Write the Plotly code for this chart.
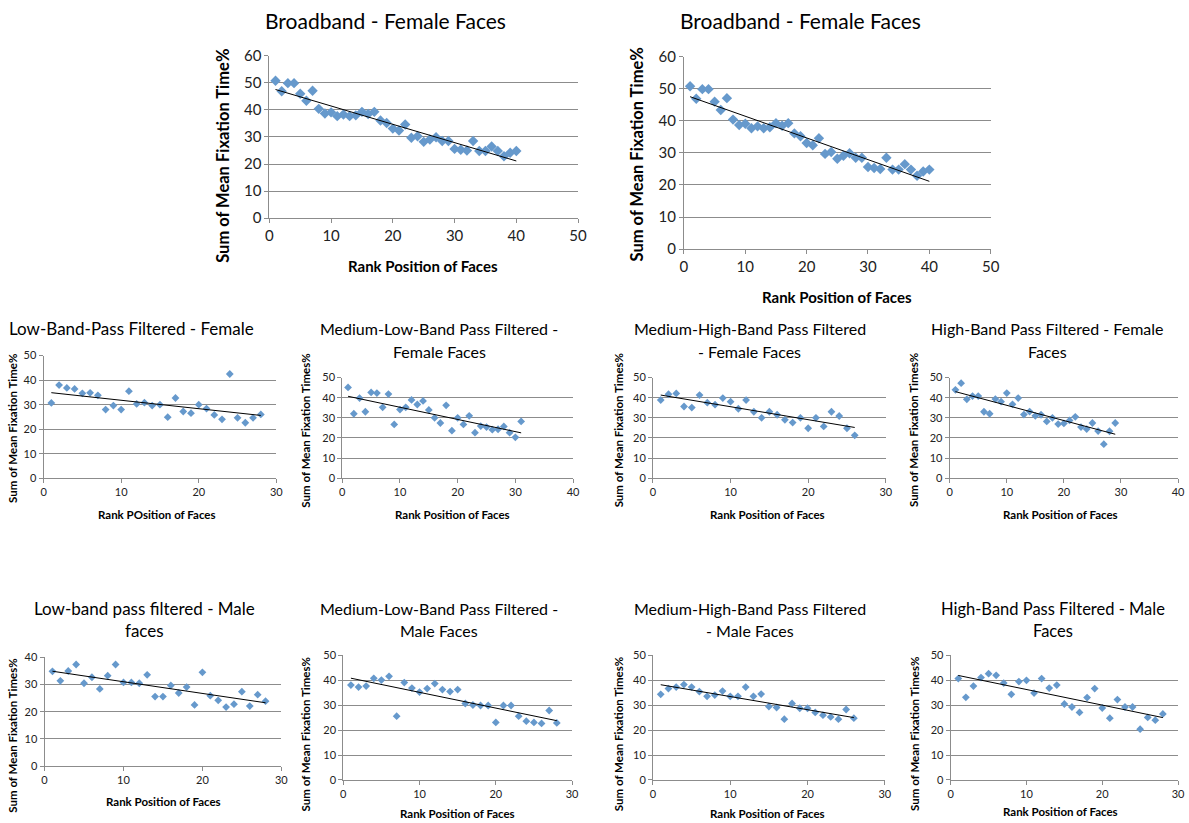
import numpy as np
import plotly.graph_objects as go

# ---------------- data ----------------
broadband_female = [50.8, 46.9, 49.9, 49.9, 46.0, 43.4, 47.1, 40.4, 38.7, 39.1,
                    37.7, 38.3, 37.7, 38.0, 39.3, 38.5, 39.3, 36.1, 35.2, 33.1,
                    32.4, 34.6, 29.7, 30.3, 28.2, 29.1, 29.9, 28.5, 28.5, 25.6,
                    25.3, 25.0, 28.5, 24.8, 24.8, 26.5, 24.8, 22.9, 24.2, 24.8]

low_female = [30.7, 38.0, 36.8, 36.4, 34.6, 34.8, 33.8, 28.0, 29.6, 28.0,
              35.5, 30.3, 30.8, 29.6, 30.0, 24.9, 32.7, 27.2, 26.5, 30.0,
              28.4, 25.8, 24.0, 42.5, 24.6, 22.6, 24.6, 26.0]

medlow_female = [45.1, 32.0, 39.8, 33.0, 42.6, 42.3, 35.2, 41.8, 26.7, 34.1,
                 35.2, 38.9, 36.6, 38.4, 33.9, 30.0, 27.4, 36.2, 23.6, 30.0,
                 26.7, 31.0, 22.6, 25.9, 25.4, 24.1, 24.3, 25.7, 22.6, 20.3, 28.2]

medhigh_female = [38.8, 41.7, 42.1, 35.6, 35.1, 41.3, 37.5, 36.5, 39.8, 38.0,
                  34.5, 38.8, 33.0, 30.0, 33.0, 31.5, 29.0, 27.6, 30.0, 24.8,
                  30.0, 25.7, 33.0, 30.9, 24.8, 21.3]

high_female = [43.9, 47.2, 39.2, 40.8, 40.8, 33.0, 32.0, 39.3, 38.0, 42.3,
               36.7, 39.8, 31.6, 33.1, 31.0, 31.5, 28.2, 30.0, 26.9, 27.2,
               28.7, 30.5, 25.4, 24.4, 27.4, 23.4, 16.9, 23.3, 27.4]

low_male = [34.9, 31.4, 35.0, 37.4, 30.5, 32.7, 28.4, 33.3, 37.4, 30.8,
            30.8, 30.5, 33.6, 25.6, 25.6, 29.7, 26.9, 29.1, 22.5, 34.5,
            25.9, 24.2, 21.7, 22.8, 27.4, 22.1, 26.3, 23.9]

medlow_male = [38.1, 37.3, 37.7, 40.8, 40.1, 41.6, 25.6, 39.1, 36.9, 35.3,
               36.7, 38.7, 36.3, 35.5, 36.3, 30.7, 30.1, 29.9, 29.9, 23.1,
               29.9, 29.9, 25.6, 23.6, 23.1, 22.7, 27.9, 22.9]

medhigh_male = [34.4, 36.7, 37.3, 38.3, 37.3, 35.5, 33.6, 34.1, 35.7, 33.6,
                33.6, 37.3, 33.6, 34.5, 29.5, 29.1, 24.4, 30.7, 28.8, 28.8,
                27.1, 26.0, 25.3, 24.4, 28.3, 24.8]

high_male = [40.7, 33.2, 37.7, 41.1, 42.7, 42.0, 38.9, 34.4, 39.5, 40.0,
             34.9, 40.7, 36.9, 38.1, 30.5, 29.3, 27.1, 33.1, 36.7, 28.9,
             24.8, 32.3, 29.3, 29.3, 20.4, 25.1, 24.0, 26.5]

# ---------------- layout helpers ----------------
FW, FH = 1189, 823
# calibration between reference pixel readings and page pixels
CAX, CBX = 2.4, 0.990
CAY, CBY = 8.0, 0.982


def px(x):
    v = (x - CAX) / CBX
    return min(max(v, 0), FW - 2) / FW


def py(y):
    v = (y - CAY) / CBY
    return 1 - min(max(v, 0), FH) / FH


FONT = "Lato"
MARKER = "#6699CC"
GRID = "#8C8C8C"

YT1 = "Sum of Mean Fixation Time%"
YT2 = "Sum of Mean Fixation Times%"
XT = "Rank Position of Faces"

panels = [
    dict(y=broadband_female, box=(268, 54, 577, 217), xr=50, yr=60,
         title=[("Broadband - Female Faces", 384, 19)], tsize=21,
         xt=XT, xtp=(422, 265), yt=YT1, ytp=(222, 154),
         xts=15, yts=16.5, ticks=15, ms=8),
    dict(y=broadband_female, box=(683, 55, 990, 248), xr=50, yr=60,
         title=[("Broadband - Female Faces", 800, 19)], tsize=21,
         xt=XT, xtp=(836, 296), yt=YT1, ytp=(636, 153),
         xts=15, yts=16.5, ticks=15, ms=8),
    dict(y=low_female, box=(42, 355, 275, 478), xr=30, yr=50,
         title=[("Low-Band-Pass Filtered - Female", 130, 328)], tsize=17,
         xt="Rank POsition of Faces", xtp=(156, 514), yt=YT1, ytp=(11, 428),
         xts=11.5, yts=11.5, ticks=11, ms=6),
    dict(y=medlow_female, box=(341, 377, 572, 478), xr=40, yr=50,
         title=[("Medium-Low-Band Pass Filtered -", 438, 328), ("Female Faces", 438, 351)], tsize=16,
         xt=XT, xtp=(451, 514), yt=YT2, ytp=(304, 430),
         xts=11.5, yts=11.5, ticks=11, ms=6),
    dict(y=medhigh_female, box=(652, 377, 885, 478), xr=30, yr=50,
         title=[("Medium-High-Band Pass Filtered", 749, 328), ("- Female Faces", 749, 351)], tsize=16,
         xt=XT, xtp=(767, 514), yt=YT2, ytp=(617, 430),
         xts=11.5, yts=11.5, ticks=11, ms=6),
    dict(y=high_female, box=(949, 377, 1181, 478), xr=40, yr=50,
         title=[("High-Band Pass Filtered - Female", 1047, 328), ("Faces", 1047, 351)], tsize=16,
         xt=XT, xtp=(1060, 514), yt=YT2, ytp=(913, 430),
         xts=11.5, yts=11.5, ticks=11, ms=6),
    dict(y=low_male, box=(43, 658, 280, 767), xr=30, yr=40,
         title=[("Low-band pass filtered - Male", 143, 609), ("faces", 143, 631)], tsize=17,
         xt=XT, xtp=(162, 803), yt=YT2, ytp=(11, 737),
         xts=11.5, yts=11.5, ticks=11, ms=6),
    dict(y=medlow_male, box=(342, 656, 571, 781), xr=30, yr=50,
         title=[("Medium-Low-Band Pass Filtered -", 438, 609), ("Male Faces", 438, 631)], tsize=16,
         xt=XT, xtp=(456, 815), yt=YT2, ytp=(304, 735),
         xts=11.5, yts=11.5, ticks=11, ms=6),
    dict(y=medhigh_male, box=(652, 656, 884, 781), xr=30, yr=50,
         title=[("Medium-High-Band Pass Filtered", 749, 609), ("- Male Faces", 749, 631)], tsize=16,
         xt=XT, xtp=(767, 815), yt=YT2, ytp=(617, 735),
         xts=11.5, yts=11.5, ticks=11, ms=6),
    dict(y=high_male, box=(950, 656, 1181, 781), xr=30, yr=50,
         title=[("High-Band Pass Filtered - Male", 1052, 609), ("Faces", 1052, 631)], tsize=16.5,
         xt=XT, xtp=(1060, 813), yt=YT2, ytp=(913, 735),
         xts=11.5, yts=11.5, ticks=11, ms=6),
]

fig = go.Figure()
annotations = []
layout_axes = {}

for i, p in enumerate(panels, start=1):
    yv = np.array(p["y"], dtype=float)
    xv = np.arange(1, len(yv) + 1)
    sfx = "" if i == 1 else str(i)
    xa, ya = "x" + sfx, "y" + sfx

    fig.add_trace(go.Scatter(
        x=xv, y=yv, mode="markers", xaxis=xa, yaxis=ya, showlegend=False,
        marker=dict(symbol="diamond", size=p["ms"], color=MARKER, line=dict(width=0)),
        hoverinfo="x+y"))

    slope, icpt = np.polyfit(xv, yv, 1)
    xl = np.array([xv[0], xv[-1]])
    fig.add_trace(go.Scatter(
        x=xl, y=slope * xl + icpt, mode="lines", xaxis=xa, yaxis=ya, showlegend=False,
        line=dict(color="#000000", width=1), hoverinfo="skip"))

    x0, y0, x1, y1 = p["box"]
    layout_axes["xaxis" + sfx] = dict(
        domain=[px(x0), px(x1)], anchor=ya, range=[0, p["xr"]], dtick=10,
        showgrid=False, zeroline=False, showline=True, linecolor=GRID, linewidth=1,
        ticks="outside", ticklen=4, tickcolor=GRID,
        tickfont=dict(family=FONT, size=p["ticks"], color="#222222"), fixedrange=True)
    layout_axes["yaxis" + sfx] = dict(
        domain=[py(y1), py(y0)], anchor=xa, range=[0, p["yr"]], dtick=10,
        showgrid=True, gridcolor=GRID, gridwidth=1, zeroline=False,
        showline=True, linecolor=GRID, linewidth=1,
        ticks="outside", ticklen=4, tickcolor=GRID,
        tickfont=dict(family=FONT, size=p["ticks"], color="#222222"), fixedrange=True)

    for text, tx, ty in p["title"]:
        annotations.append(dict(
            text=text, x=px(tx), y=py(ty), xref="paper", yref="paper",
            xanchor="center", yanchor="middle", showarrow=False,
            font=dict(family=FONT, size=p["tsize"], color="#000000")))
    annotations.append(dict(
        text="<b>" + p["xt"] + "</b>", x=px(p["xtp"][0]), y=py(p["xtp"][1]),
        xref="paper", yref="paper", xanchor="center", yanchor="middle", showarrow=False,
        font=dict(family=FONT, size=p["xts"], color="#000000")))
    annotations.append(dict(
        text="<b>" + p["yt"] + "</b>", x=px(p["ytp"][0]), y=py(p["ytp"][1]),
        xref="paper", yref="paper", xanchor="center", yanchor="middle", showarrow=False,
        textangle=-90, font=dict(family=FONT, size=p["yts"], color="#000000")))

fig.update_layout(
    width=FW, height=FH, margin=dict(l=0, r=0, t=0, b=0),
    paper_bgcolor="white", plot_bgcolor="white",
    annotations=annotations, **layout_axes)

fig.write_html(
    "out.html",
    config={"displayModeBar": False},
    post_script="document.body.style.margin='0';"
                "document.documentElement.style.overflow='hidden';"
                "document.body.style.overflow='hidden';")
